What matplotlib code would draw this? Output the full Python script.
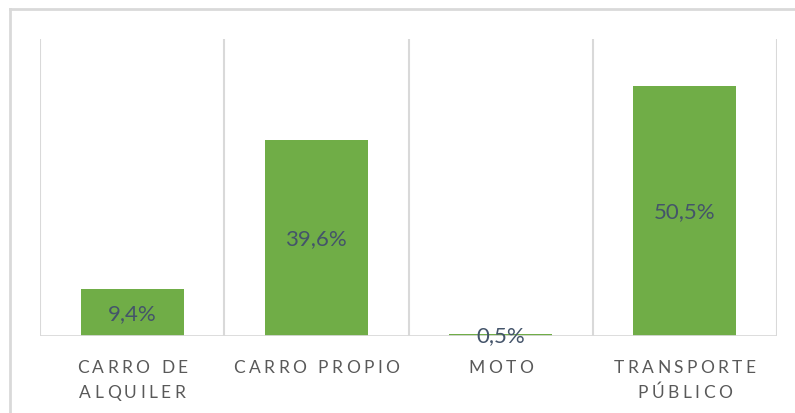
import matplotlib
matplotlib.use("Agg")
import matplotlib.pyplot as plt
from matplotlib.font_manager import FontProperties
from matplotlib.lines import Line2D

# datos
categorias = [["CARRO DE", "ALQUILER"], ["CARRO PROPIO"], ["MOTO"], ["TRANSPORTE", "PÚBLICO"]]
valores = [9.4, 39.6, 0.5, 50.5]
etiquetas = ["9,4%", "39,6%", "0,5%", "50,5%"]

verde = "#70AD47"
gris = "#D9D9D9"

W, H = 795, 414
fig = plt.figure(figsize=(W / 100, H / 100), dpi=100)
ax = fig.add_axes([40 / W, 1 - 337 / H, (777 - 40) / W, (337 - 40) / H])

x = list(range(len(valores)))
ax.bar(x, valores, width=0.56, color=verde, zorder=2)
ax.set_xlim(-0.5, len(valores) - 0.5)
ax.set_ylim(0, 60)

# lineas verticales entre categorias
for b in [i - 0.5 for i in range(len(valores) + 1)]:
    ax.axvline(b, color=gris, lw=1.5, zorder=1)
ax.axhline(0, color=gris, lw=2, zorder=3)

for s in ax.spines.values():
    s.set_visible(False)
ax.set_xticks([])
ax.set_yticks([])

for xi, v, t in zip(x, valores, etiquetas):
    ax.text(xi, v / 2, t, ha="center", va="center", color="#44546A",
            fontsize=16, family="Lato", zorder=4)

# etiquetas con espaciado entre letras
fp = FontProperties(family="Lato", size=12.5)
renderer = fig.canvas.get_renderer()
tracking = 3.4


def ancho(c):
    if c == " ":
        return fp.get_size_in_points() * 100 / 72 * 0.26
    w, h, d = renderer.get_text_width_height_descent(c, fp, ismath=False)
    return w


def texto_espaciado(xc, y_px, s):
    ws = [ancho(c) for c in s]
    total = sum(ws) + tracking * (len(s) - 1)
    pos = -total / 2
    for c, w in zip(s, ws):
        ax.annotate(c, xy=(xc, 0), xycoords=("data", "axes fraction"),
                    xytext=(pos, y_px), textcoords="offset pixels",
                    ha="left", va="top", fontproperties=fp, color="#595959",
                    annotation_clip=False)
        pos += w + tracking


for xi, lineas in zip(x, categorias):
    for j, linea in enumerate(lineas):
        texto_espaciado(xi, -23 - 25 * j, linea)

# marco del grafico
fig.add_artist(Line2D([10 / W, 10 / W], [0, 1 - 10 / H], color=gris, lw=2))
fig.add_artist(Line2D([10 / W, 1], [1 - 10 / H, 1 - 10 / H], color=gris, lw=2))

fig.savefig("out.png", dpi=100)
